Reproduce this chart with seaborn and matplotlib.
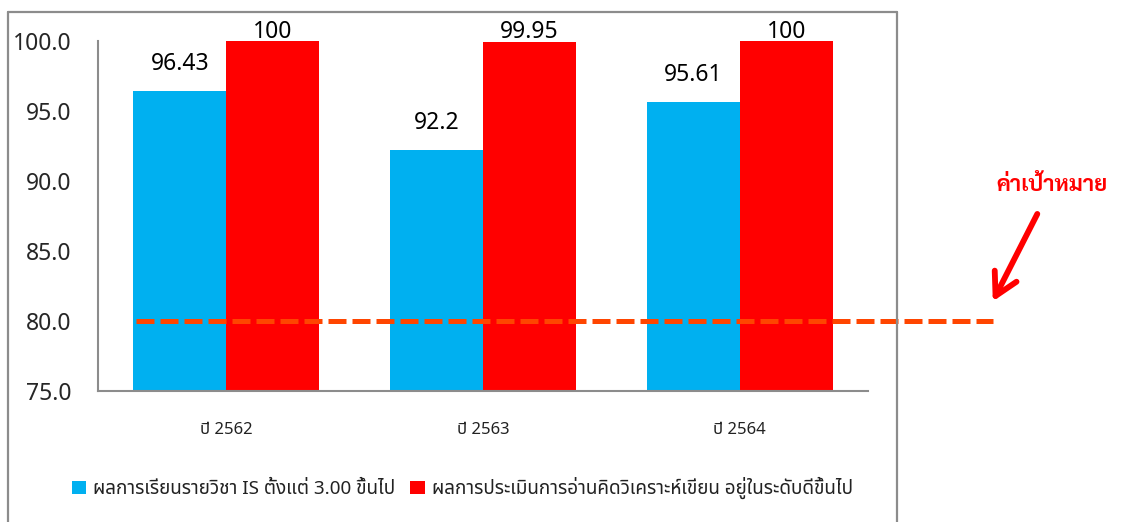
import numpy as np
import pandas as pd
import matplotlib
matplotlib.use('Agg')
import matplotlib.pyplot as plt
import seaborn as sn
from matplotlib.patches import Patch
from matplotlib.lines import Line2D

# data
years = ['ปี 2562', 'ปี 2563', 'ปี 2564']
series_names = ['ผลการเรียนรายวิชา IS ตั้งแต่ 3.00 ขึ้นไป',
                'ผลการประเมินการอ่านคิดวิเคราะห์เขียน อยู่ในระดับดีขึ้นไป']
is_score = [96.43, 92.2, 95.61]
reading_score = [100, 99.95, 100]
target = 80
target_label = 'ค่าเป้าหมาย'

colors = ['#00B0F0', '#FF0000']
thai = ['Noto Sans Thai', 'DejaVu Sans']

sn.set_style('white')
plt.rcParams['font.family'] = ['Noto Sans', 'Noto Sans Thai', 'DejaVu Sans']

df = pd.DataFrame({'year': years * 2,
                   'series': [series_names[0]] * 3 + [series_names[1]] * 3,
                   'value': is_score + reading_score})

fig = plt.figure(figsize=(11.25, 5.22), dpi=100)
ax = fig.add_axes([0.0871, 0.251, 0.6845, 0.6705])

sn.barplot(data=df, x='year', y='value', hue='series', palette=colors,
           width=0.725, saturation=1, ax=ax, legend=False, edgecolor='none')

# bar labels (Excel pushes the top ones down inside the plot area)
for cont, vals in zip(ax.containers, [is_score, reading_score]):
    for bar, v in zip(cont, vals):
        x = bar.get_x() + bar.get_width() / 2
        y = min(v + 1.93, 100.65)
        ax.text(x, y, f'{v:g}', ha='center', va='center', fontsize=16.5,
                color='black', clip_on=False)

ax.set_ylim(75, 100)
ax.set_xlim(-0.5, 2.5)
ax.set_yticks(np.arange(75, 101, 5))
ax.yaxis.set_major_formatter(matplotlib.ticker.FormatStrFormatter('%.1f'))
ax.tick_params(axis='y', labelsize=16.5, length=0, pad=19)
ax.tick_params(axis='x', labelsize=12, length=0, pad=22)
for lab in ax.get_xticklabels():
    lab.set_family(thai)
    lab.set_color('#222222')
ax.set_xlabel('')
ax.set_ylabel('')
for s in ['top', 'right']:
    ax.spines[s].set_visible(False)
for s in ['left', 'bottom']:
    ax.spines[s].set_color('#8c8c8c')
    ax.spines[s].set_linewidth(1.5)

# target line, running past the plot area
ax.plot([-0.35, 2.986], [target, target], color='#FF4500', lw=3.6,
        dashes=(3.6, 1.2), clip_on=False, zorder=5)

ax.annotate(target_label, xy=(2.986, 81.4), xycoords='data',
            xytext=(0.935, 0.645), textcoords='figure fraction',
            ha='center', va='center', fontsize=16, fontweight='bold',
            color='#FF0000', family=['Sarabun', 'Noto Sans Thai'],
            annotation_clip=False,
            arrowprops=dict(arrowstyle='->,head_length=1.0,head_width=0.55',
                            color='#FF0000', lw=4.2, shrinkA=12, shrinkB=0))

# legend below
handles = [Patch(facecolor=c, edgecolor='none', label=n) for c, n in zip(colors, series_names)]
leg = fig.legend(handles=handles, loc='center', bbox_to_anchor=(0.411, 0.065),
                 ncol=2, frameon=False, fontsize=13.6, handlelength=0.75,
                 handleheight=0.75, handletextpad=0.4, columnspacing=0.8)
for t in leg.get_texts():
    t.set_family(thai)
    t.set_color('#222222')

# outer chart border (no bottom edge)
bc = '#8c8c8c'
fig.add_artist(Line2D([8 / 1125, 8 / 1125], [0, 1 - 12 / 522], color=bc, lw=1.6))
fig.add_artist(Line2D([8 / 1125, 897 / 1125], [1 - 12 / 522, 1 - 12 / 522], color=bc, lw=1.6))
fig.add_artist(Line2D([897 / 1125, 897 / 1125], [0, 1 - 12 / 522], color=bc, lw=1.6))

plt.savefig('out.png', dpi=100)
